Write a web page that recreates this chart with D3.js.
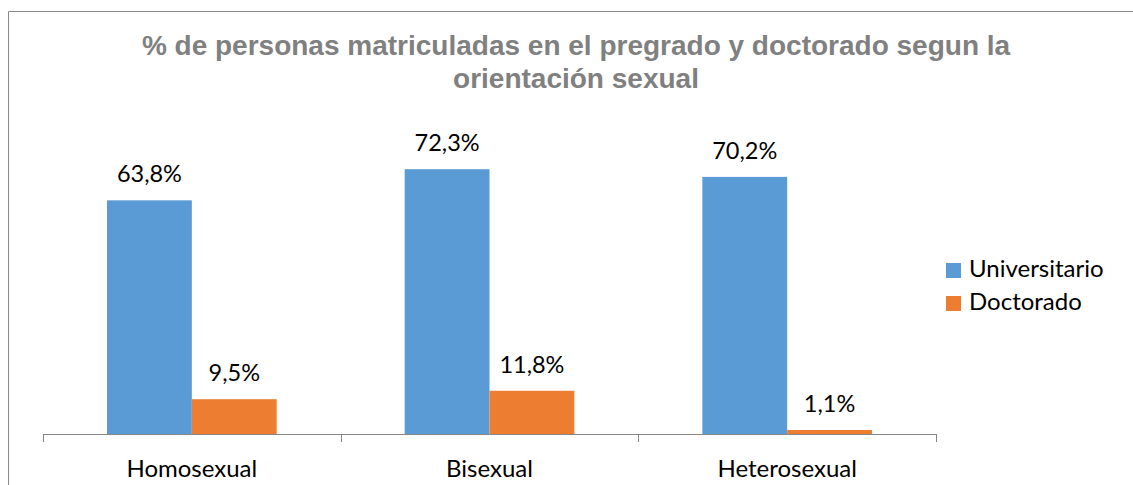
<!DOCTYPE html>
<html>
<head>
<meta charset="utf-8">
<script src="https://cdn.jsdelivr.net/npm/d3@7"></script>
<style>
  html, body { margin: 0; padding: 0; background: #fff; }
  svg { display: block; }
</style>
</head>
<body>
<div id="chart"></div>
<script>
// Datos del gráfico
const categorias = ['Homosexual', 'Bisexual', 'Heterosexual'];
const series = ['Universitario', 'Doctorado'];
const universitario = [63.8, 72.3, 70.2];
const doctorado = [9.5, 11.8, 1.1];
const colores = ['#5B9BD5', '#ED7D31'];
const titulo = ['% de personas matriculadas en el pregrado y doctorado segun la', 'orientación sexual'];

// Formato con coma decimal
function formatPct(v) {
    return v.toFixed(1).replace('.', ',') + '%';
}

const width = 1133, height = 485;
const svg = d3.select('#chart').append('svg')
    .attr('width', width)
    .attr('height', height);

// Borde del área del gráfico
svg.append('path')
    .attr('d', 'M8.5,' + height + ' L8.5,11.5 L' + width + ',11.5')
    .attr('fill', 'none')
    .attr('stroke', '#898989')
    .attr('stroke-width', 1);

// Título
svg.append('text')
    .attr('x', 576)
    .attr('y', 55)
    .attr('text-anchor', 'middle')
    .attr('font-family', '"Liberation Sans", Arial, sans-serif')
    .attr('font-weight', 'bold')
    .attr('font-size', 28)
    .attr('fill', '#808080')
    .selectAll('tspan')
    .data(titulo)
    .join('tspan')
    .attr('x', 576)
    .attr('dy', (d, i) => i === 0 ? 0 : 33)
    .text(d => d);

// Escalas
const x = d3.scaleBand()
    .domain(categorias)
    .range([43, 936])
    .paddingInner(0.43)
    .paddingOuter(0.215);

const xs = d3.scaleBand()
    .domain(series)
    .range([0, x.bandwidth()]);

const y = d3.scaleLinear()
    .domain([0, 80])
    .range([434, 141]);

const valores = [universitario, doctorado];
const font = 'Lato, "Open Sans", sans-serif';

// Barras y etiquetas
series.forEach((s, si) => {
    const g = svg.append('g');
    g.selectAll('rect')
        .data(valores[si])
        .join('rect')
        .attr('x', (d, i) => x(categorias[i]) + xs(s))
        .attr('y', d => y(d))
        .attr('width', xs.bandwidth())
        .attr('height', d => y(0) - y(d))
        .attr('fill', colores[si]);

    g.selectAll('text')
        .data(valores[si])
        .join('text')
        .attr('x', (d, i) => x(categorias[i]) + xs(s) + xs.bandwidth() / 2)
        .attr('y', d => y(d) - 18)
        .attr('text-anchor', 'middle')
        .attr('font-family', font)
        .attr('font-size', 23.5)
        .attr('fill', '#000')
        .text(d => formatPct(d));
});

// Eje horizontal con marcas entre categorías
const x0 = x.range()[0], x1 = x.range()[1];
svg.append('line')
    .attr('x1', x0).attr('x2', x1)
    .attr('y1', y(0) + 0.5).attr('y2', y(0) + 0.5)
    .attr('stroke', '#868686');

const marcas = d3.range(categorias.length + 1).map(i => x0 + i * x.step());
svg.selectAll('.marca')
    .data(marcas)
    .join('line')
    .attr('class', 'marca')
    .attr('x1', d => Math.round(d) + 0.5).attr('x2', d => Math.round(d) + 0.5)
    .attr('y1', y(0)).attr('y2', y(0) + 8)
    .attr('stroke', '#868686');

svg.selectAll('.cat')
    .data(categorias)
    .join('text')
    .attr('class', 'cat')
    .attr('x', d => x(d) + x.bandwidth() / 2)
    .attr('y', 477)
    .attr('text-anchor', 'middle')
    .attr('font-family', font)
    .attr('font-size', 24)
    .attr('fill', '#000')
    .text(d => d);

// Leyenda
const leyenda = svg.append('g').attr('transform', 'translate(946,263)');
const item = leyenda.selectAll('g')
    .data(series)
    .join('g')
    .attr('transform', (d, i) => 'translate(0,' + (i * 33) + ')');
item.append('rect')
    .attr('width', 15)
    .attr('height', 15)
    .attr('fill', (d, i) => colores[i]);
item.append('text')
    .attr('x', 23)
    .attr('y', 14)
    .attr('font-family', font)
    .attr('font-size', 24)
    .attr('fill', '#000')
    .text(d => d);
</script>
</body>
</html>
